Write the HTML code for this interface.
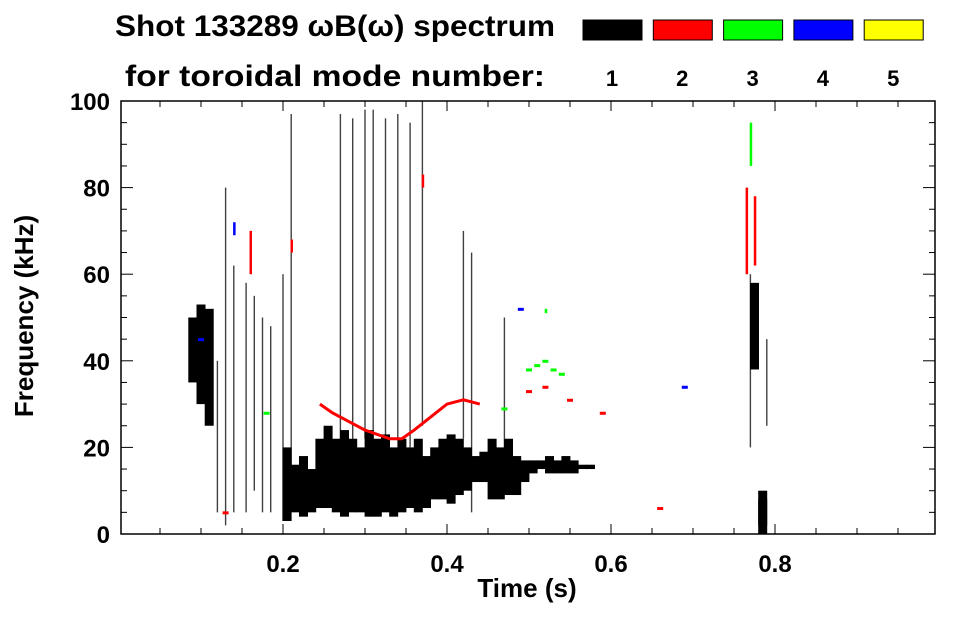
<!DOCTYPE html>
<html><head><meta charset="utf-8"><style>
body{margin:0;background:#fff;width:963px;height:615px;overflow:hidden;font-family:"Liberation Sans",sans-serif}
svg text{font-family:"Liberation Sans",sans-serif;font-weight:bold;fill:#000}
</style></head><body>
<svg id="chart" width="963" height="615" xmlns="http://www.w3.org/2000/svg">
<text x="115" y="36" font-size="30" textLength="440" lengthAdjust="spacingAndGlyphs">Shot 133289 ωB(ω) spectrum</text>
<text x="125" y="86" font-size="30" textLength="420" lengthAdjust="spacingAndGlyphs">for toroidal mode number:</text>
<g id="legend"></g>
<g id="marks"></g>
<g id="axes"></g>
<text x="527" y="597" font-size="26" text-anchor="middle">Time (s)</text>
<text transform="translate(33,316) rotate(-90)" font-size="26" text-anchor="middle">Frequency (kHz)</text>
</svg>
<script>
const modeColors=['#000','#f00','#0f0','#00f','#ff0'];
const modeLabels=['1','2','3','4','5'];
const xTicks=[0.2,0.4,0.6,0.8];
const yTicks=[0,20,40,60,80,100];
// main mass columns: time, low kHz, high kHz (mode 1)
const colT=[0.205,0.215,0.225,0.235,0.245,0.255,0.265,0.275,0.285,0.295,0.305,0.315,0.325,0.335,0.345,0.355,0.365,0.375,0.385,0.395,0.405,0.415,0.425,0.435,0.445,0.455,0.465,0.475,0.485,0.495,0.505,0.515,0.525,0.535,0.545,0.555,0.565,0.575,0.09,0.1,0.11,0.775,0.785,0.785];
const colLo=[3,5,4,5,6,6,5,4,5,5,4,4,5,4,5,6,5,6,8,8,7,9,10,12,12,8,8,9,9,12,14,15,14,14,14,14,15,15,35,30,25,38,0,2];
const colHi=[20,16,18,15,22,25,22,24,22,20,24,22,23,20,22,20,22,18,20,22,23,22,20,18,19,22,20,22,18,17,17,17,18,17,18,17,16,16,50,53,52,58,10,8];
// streaks: time, low, high, mode
const stT=[0.12,0.14,0.155,0.165,0.175,0.185,0.2,0.21,0.27,0.285,0.3,0.31,0.325,0.34,0.355,0.37,0.42,0.43,0.47,0.77,0.79,0.16,0.21,0.37,0.765,0.775,0.14,0.52,0.77,0.13];
const stLo=[5,5,5,10,5,5,3,10,20,20,22,20,20,22,20,25,22,5,20,20,25,60,65,80,60,62,69,51,85,2];
const stHi=[40,62,58,55,50,48,60,97,97,96,98,98,96,97,95,100,70,65,50,60,45,70,68,83,80,78,72,52,95,80];
const stMode=[1,1,1,1,1,1,1,1,1,1,1,1,1,1,1,1,1,1,1,1,1,2,2,2,2,2,4,3,3,1];
// red chirp line points (mode 2)
const chirpT=[0.245,0.26,0.28,0.3,0.315,0.33,0.345,0.36,0.38,0.4,0.42,0.44];
const chirpF=[30,28,26,24,23,22,22,24,27,30,31,30];
// scattered dots: time, freq, mode
const dotT=[0.5,0.51,0.52,0.53,0.54,0.5,0.52,0.55,0.59,0.66,0.69,0.1,0.13,0.18,0.47,0.49];
const dotF=[38,39,40,38,37,33,34,31,28,6,34,45,5,28,29,52];
const dotM=[3,3,3,3,3,2,2,2,2,2,4,4,2,3,3,4];
const X=t=>119+t*820, Y=f=>534-f*4.33;
const NS='http://www.w3.org/2000/svg';
const marks=document.getElementById('marks'),axes=document.getElementById('axes'),leg=document.getElementById('legend');
function mk(tag,at,parent){const e=document.createElementNS(NS,tag);for(const k in at)e.setAttribute(k,at[k]);parent.appendChild(e);return e;}
modeColors.forEach((c,i)=>{
  const r=mk('rect',{x:583+i*70.3,y:20,width:59,height:20,fill:c,stroke:'#000','stroke-width':1},leg);
  
  
  const t=mk('text',{x:612+i*70.3,y:86,'font-size':22,'text-anchor':'middle'},leg);t.textContent=modeLabels[i];
  
  
});
colT.forEach((t,i)=>{
  const r=mk('rect',{x:X(t)-4.5,y:Y(colHi[i]),width:9,height:Y(colLo[i])-Y(colHi[i]),fill:'#000'},marks);
  
  
});
stT.forEach((t,i)=>{
  const r=mk('rect',{x:X(t)-0.7,y:Y(stHi[i]),width:stMode[i]==1?1.4:2.5,height:Y(stLo[i])-Y(stHi[i]),fill:modeColors[stMode[i]-1],opacity:stMode[i]==1?0.75:1},marks);
  
  
});
const pl=mk('polyline',{points:chirpT.map((t,i)=>X(t)+','+Y(chirpF[i])).join(' '),fill:'none',stroke:'#f00','stroke-width':3},marks);


dotT.forEach((t,i)=>{
  const r=mk('rect',{x:X(t)-3,y:Y(dotF[i])-1,width:6,height:3,fill:modeColors[dotM[i]-1]},marks);
  
  
});
mk('rect',{x:121,y:101,width:814,height:433,fill:'none',stroke:'#000','stroke-width':1.5},axes);
for(let v=0.05;v<1;v+=0.05){const x=X(v);const major=Math.abs(v*5-Math.round(v*5))<1e-6;const L=major?10:6;
  mk('line',{x1:x,x2:x,y1:534,y2:534-L,stroke:'#000'},axes);mk('line',{x1:x,x2:x,y1:101,y2:101+L,stroke:'#000'},axes);}
for(let f=0;f<=100;f+=5){const y=Y(f);const L=f%20==0?12:6;
  mk('line',{x1:121,x2:121+L,y1:y,y2:y,stroke:'#000'},axes);mk('line',{x1:935,x2:935-L,y1:y,y2:y,stroke:'#000'},axes);}
xTicks.forEach(v=>{const t=mk('text',{x:X(v),y:572,'font-size':24,'text-anchor':'middle'},axes);t.textContent=v.toFixed(1);
  
  });
yTicks.forEach(v=>{const t=mk('text',{x:110,y:Y(v)+9,'font-size':24,'text-anchor':'end'},axes);t.textContent=v;
  
  });
</script>
</body></html>
